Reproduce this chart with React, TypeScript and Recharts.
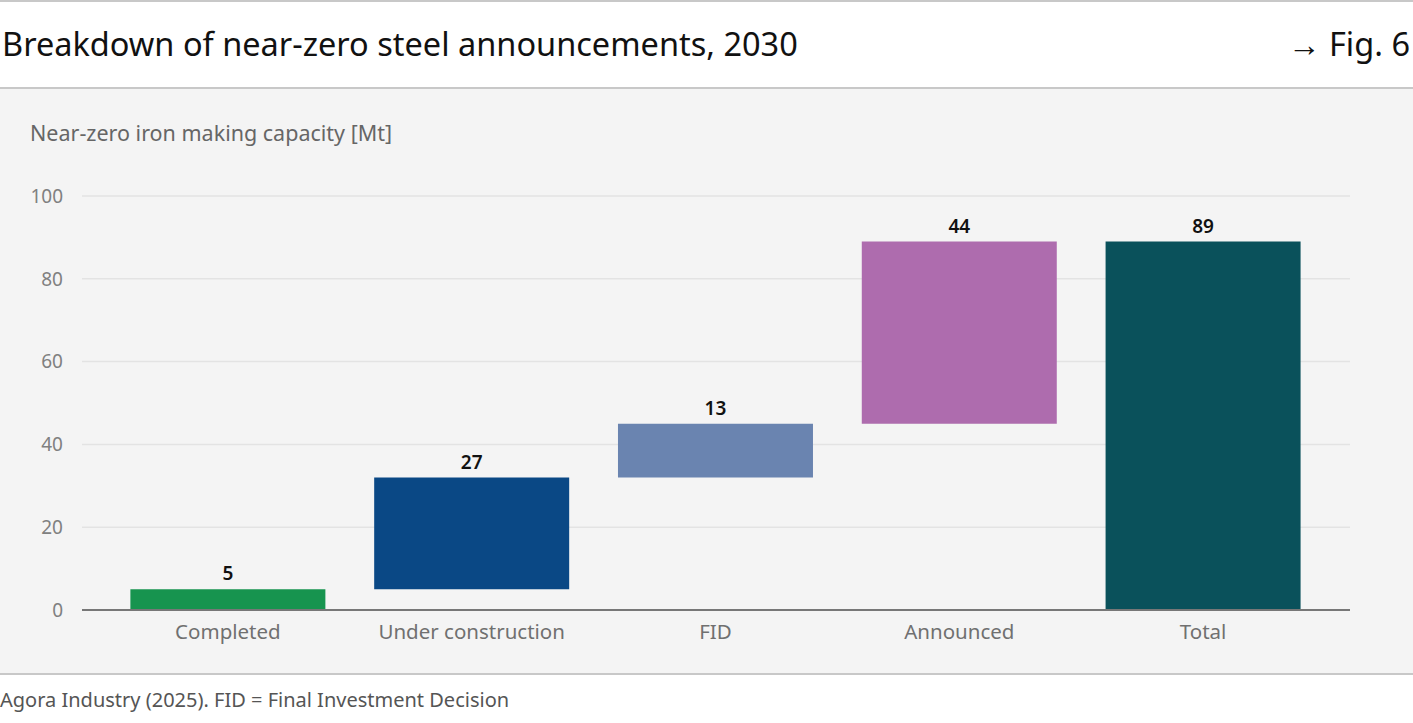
import { BarChart, Bar, XAxis, YAxis, CartesianGrid, LabelList, Cell } from 'recharts'

const CATEGORIES = ['Completed', 'Under construction', 'FID', 'Announced', 'Total']
const VALUES = [5, 27, 13, 44, 89]
const BASES = [0, 5, 32, 45, 0]
const COLORS = ['#17944F', '#0A4885', '#6A84B0', '#AE6CAE', '#0A515B']
const Y_TICKS = [0, 20, 40, 60, 80, 100]

const FONT = '"Noto Sans", "Open Sans", sans-serif'

const data = CATEGORIES.map((name, i) => ({ name, base: BASES[i], value: VALUES[i] }))

export default function App() {
  return (
    <div style={{ width: 1413, height: 723, position: 'fixed', top: 0, left: 0, background: 'white', fontFamily: FONT, overflow: 'hidden' }}>
      <div style={{ position: 'absolute', top: 0, left: 0, width: 1413, height: 2, background: '#c8c8c8' }} />
      <div style={{ position: 'absolute', top: 21, left: 2, fontSize: 32.5, color: '#111', whiteSpace: 'nowrap' }}>
        Breakdown of near-zero steel announcements, 2030
      </div>
      <div style={{ position: 'absolute', top: 21, right: 3, fontSize: 32.5, color: '#111' }}>→ Fig. 6</div>
      <div style={{ position: 'absolute', top: 87, left: 0, width: 1413, height: 2, background: '#c8c8c8' }} />

      <div style={{ position: 'absolute', top: 89, left: 0, width: 1413, height: 584, background: '#F4F4F4' }}>
        <div style={{ position: 'absolute', top: 29, left: 30, fontSize: 21.5, color: '#666', whiteSpace: 'nowrap' }}>
          Near-zero iron making capacity [Mt]
        </div>
        <BarChart
          width={1413}
          height={584}
          data={data}
          margin={{ top: 107, right: 63, left: 0, bottom: 33 }}
          barCategoryGap="10%"
        >
          <CartesianGrid vertical={false} stroke="#E3E3E3" strokeWidth={1.5} />
          <XAxis
            dataKey="name"
            height={30}
            padding={{ left: 24, right: 25 }}
            axisLine={{ stroke: '#777', strokeWidth: 2 }}
            tickLine={false}
            tickMargin={8}
            tick={{ fontSize: 20.5, fill: '#707070', fontFamily: FONT }}
          />
          <YAxis
            width={82}
            domain={[0, 100]}
            ticks={Y_TICKS}
            axisLine={false}
            tickLine={false}
            tickSize={0}
            tickMargin={19}
            tick={{ fontSize: 19, fill: '#808080', fontFamily: FONT }}
          />
          <Bar dataKey="base" stackId="a" fill="transparent" isAnimationActive={false} />
          <Bar dataKey="value" stackId="a" isAnimationActive={false}>
            {data.map((d, i) => (
              <Cell key={d.name} fill={COLORS[i]} />
            ))}
            <LabelList
              dataKey="value"
              position="top"
              offset={9}
              style={{ fontSize: 19, fontWeight: 600, fill: '#111', fontFamily: FONT }}
            />
          </Bar>
        </BarChart>
      </div>

      <div style={{ position: 'absolute', top: 673, left: 0, width: 1413, height: 2, background: '#c8c8c8' }} />
      <div style={{ position: 'absolute', top: 686, left: 0, fontSize: 20, color: '#555', whiteSpace: 'nowrap' }}>
        Agora Industry (2025). FID = Final Investment Decision
      </div>
    </div>
  )
}
